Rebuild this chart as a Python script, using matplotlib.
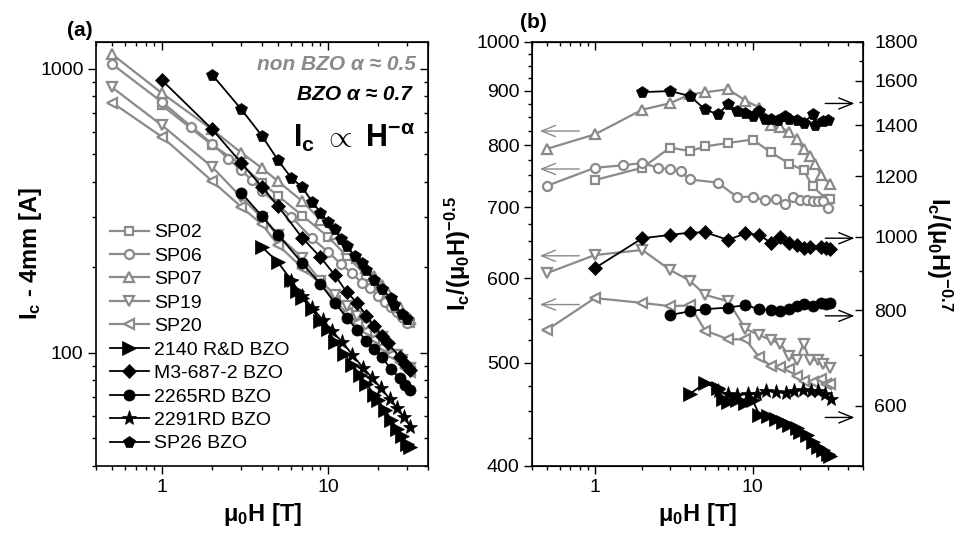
import numpy as np
import matplotlib
matplotlib.use('Agg')
import matplotlib.pyplot as plt
from matplotlib.ticker import FixedLocator, FuncFormatter, NullFormatter

plt.rcParams['font.family'] = ['Liberation Sans', 'DejaVu Sans']
plt.rcParams['mathtext.fontset'] = 'custom'
plt.rcParams['mathtext.rm'] = 'Liberation Sans'
plt.rcParams['mathtext.it'] = 'Liberation Sans:italic'
plt.rcParams['mathtext.bf'] = 'Liberation Sans:bold'

'''Data: field [T] and Ic*H^alpha as read off panel (b)'''
'''===================================================='''
sp02_h = [1, 2, 3, 4, 5, 7, 10, 13, 17, 21, 24, 29, 31]
sp02_s = [742, 762, 796, 790, 798, 804, 810, 788, 769, 758, 732, 713, 712]

sp06_h = [0.5, 1, 1.5, 2, 2.5, 3, 3.5, 4, 6, 8, 10, 12, 14, 16, 18, 20, 22, 24, 26, 28, 30]
sp06_s = [733, 762, 766, 770, 762, 760, 756, 743, 738, 715, 716, 710, 712, 704, 716, 711, 710, 709, 709, 709, 698]

sp07_h = [0.5, 1, 2, 3, 4, 5, 7, 9, 11, 13, 15, 17, 19, 21, 23, 25, 27, 31]
sp07_s = [794, 819, 864, 876, 893, 897, 903, 881, 868, 835, 832, 823, 811, 793, 781, 769, 751, 735]

sp19_h = [0.5, 1, 2, 3, 4, 5, 7, 9, 11, 13, 15, 17, 19, 21, 23, 26, 28, 31]
sp19_s = [607, 631, 638, 611, 597, 579, 571, 538, 531, 525, 521, 507, 503, 521, 503, 503, 499, 494]

sp20_h = [0.5, 1, 2, 3, 4, 5, 7, 9, 11, 13, 15, 17, 19, 21, 24, 27, 29, 31]
sp20_s = [537, 575, 569, 565, 566, 536, 526, 526, 506, 497, 495, 493, 486, 481, 480, 483, 478, 478]

r2140_h = [4, 5, 6, 6.5, 7, 8, 9, 10, 11, 12.5, 14, 15.5, 17, 19, 20, 22, 24, 26, 28, 30, 31]
r2140_s = [622, 642, 632, 613, 607, 610, 604, 610, 584, 582, 577, 571, 566, 560, 554, 549, 538, 530, 524, 519, 516]

m3_h = [1, 2, 3, 4, 5, 7, 9, 11, 13, 15, 17, 19, 21, 23, 27, 29, 31]
m3_s = [909, 995, 1005, 1012, 1013, 990, 1010, 1005, 982, 998, 981, 975, 965, 970, 970, 965, 962]

r2265_h = [3, 4, 5, 7, 9, 11, 13, 15, 17, 19, 21, 24, 27, 29, 31]
r2265_s = [789, 798, 803, 807, 813, 803, 801, 798, 803, 810, 816, 810, 817, 816, 817]

r2291_h = [6, 7, 8, 9.3, 10.6, 12.2, 14, 16.3, 18.4, 20.8, 23.5, 26, 28.6, 31.3]
r2291_s = [628, 621, 619, 622, 621, 628, 625, 624, 628, 630, 628, 628, 622, 613]

sp26_h = [2, 3, 4, 5, 6, 7, 8, 9, 10, 11, 12, 13, 14.5, 16, 17, 19, 21, 24, 25, 28, 30]
sp26_s = [1547, 1552, 1529, 1468, 1447, 1492, 1460, 1451, 1441, 1460, 1427, 1427, 1424, 1438, 1427, 1420, 1410, 1446, 1399, 1417, 1424]

labels = ['SP02', 'SP06', 'SP07', 'SP19', 'SP20',
          '2140 R&D BZO', 'M3-687-2 BZO', '2265RD BZO', '2291RD BZO', 'SP26 BZO']
fields = [sp02_h, sp06_h, sp07_h, sp19_h, sp20_h, r2140_h, m3_h, r2265_h, r2291_h, sp26_h]
scaled = [sp02_s, sp06_s, sp07_s, sp19_s, sp20_s, r2140_s, m3_s, r2265_s, r2291_s, sp26_s]
alphas = [0.5] * 5 + [0.7] * 5
markers = ['s', 'o', '^', 'v', '<', '>', 'D', 'o', '*', 'p']
msizes = [6, 6.5, 7.5, 7.5, 7.5, 10, 7, 8, 11, 8.5]

# arrows pointing to the axis used by each group
gray_arrow_y = [825, 760, 630, 567]
black_arrow_y = [1495, 995, 787, 579]

gray = '#8a8a8a'


def style(ax, top_ax=None, right_ax=None):
    for s in ax.spines.values():
        s.set_linewidth(1.2)
    ax.tick_params(which='major', direction='out', length=5.5, width=1, labelsize=14)
    ax.tick_params(which='minor', direction='out', length=3, width=1)
    for a in [top_ax, right_ax]:
        if a is not None:
            a.tick_params(which='major', direction='in', length=5.5, width=1, labelsize=14, pad=8)
            a.tick_params(which='minor', direction='in', length=3, width=1)


fig = plt.figure(figsize=(9.73, 5.4), dpi=100)
axa = fig.add_axes([96 / 973, 74 / 540, 332 / 973, 424 / 540])
axb = fig.add_axes([532 / 973, 74 / 540, 331 / 973, 424 / 540])
axb2 = axb.twinx()

for i in range(len(labels)):
    h = np.array(fields[i], dtype=float)
    s = np.array(scaled[i], dtype=float)
    ic = s / h ** alphas[i]
    if alphas[i] == 0.5:
        kw = dict(color=gray, mfc='white', mec=gray, mew=1.6, lw=1.6)
        axr = axb
    else:
        kw = dict(color='black', mfc='black', mec='black', mew=0.5, lw=1.3)
        axr = axb2
    axa.plot(h, ic, marker=markers[i], ms=msizes[i], label=labels[i], **kw)
    axr.plot(h, s, marker=markers[i], ms=msizes[i], **kw)

fmt = FuncFormatter(lambda v, p: '%g' % v)

# panel (a)
axa.set_xscale('log')
axa.set_yscale('log')
axa.set_xlim(0.4, 40)
axa.set_ylim(40, 1240)
axa.xaxis.set_major_formatter(fmt)
axa.yaxis.set_major_formatter(fmt)
axa.xaxis.set_minor_formatter(NullFormatter())
axa.yaxis.set_minor_formatter(NullFormatter())
ta = axa.secondary_xaxis('top')
ta.xaxis.set_minor_formatter(NullFormatter())
ra = axa.secondary_yaxis('right')
ra.yaxis.set_minor_formatter(NullFormatter())
style(axa, ta, ra)
ta.set_xticklabels([])
ra.set_yticklabels([])
axa.set_xlabel(r'$\mathbf{\mu_0}$H [T]', fontsize=17, fontweight='bold', labelpad=4)
axa.set_ylabel(r'$\mathbf{I_c}$ - 4mm [A]', fontsize=17, fontweight='bold', labelpad=-3)
axa.legend(loc='lower left', frameon=False, fontsize=14, handlelength=2.0,
           handletextpad=0.3, labelspacing=0.3, borderaxespad=0.3, numpoints=1)
axa.text(0.962, 0.948, 'non BZO α ≈ 0.5', transform=axa.transAxes, ha='right', va='center',
         color=gray, fontsize=15, fontweight='bold', fontstyle='italic')
axa.text(0.952, 0.876, 'BZO α ≈ 0.7', transform=axa.transAxes, ha='right', va='center',
         color='black', fontsize=15, fontweight='bold', fontstyle='italic')
axa.text(0.962, 0.775, r'$\mathbf{I_c}$ $\propto$ $\mathbf{H^{-\alpha}}$', transform=axa.transAxes,
         ha='right', va='center', fontsize=22)
fig.text(80 / 973, 1 - 30 / 540, '(a)', ha='center', va='center', fontsize=15, fontweight='bold')

# panel (b)
axb.set_xscale('log')
axb.set_yscale('log')
axb.set_xlim(0.4, 50)
axb.set_ylim(400, 1000)
axb.yaxis.set_major_locator(FixedLocator(np.arange(400, 1001, 100)))
axb.yaxis.set_minor_locator(FixedLocator(np.arange(400, 1001, 25)))
axb.yaxis.set_major_formatter(fmt)
axb.yaxis.set_minor_formatter(NullFormatter())
axb.xaxis.set_major_formatter(fmt)
axb.xaxis.set_minor_formatter(NullFormatter())
axb2.set_yscale('log')
axb2.set_ylim(500, 1800)
axb2.yaxis.set_major_locator(FixedLocator(np.arange(600, 1801, 200)))
axb2.yaxis.set_minor_locator(FixedLocator(np.arange(500, 1801, 100)))
axb2.yaxis.set_major_formatter(fmt)
axb2.yaxis.set_minor_formatter(NullFormatter())
tb = axb.secondary_xaxis('top')
tb.xaxis.set_minor_formatter(NullFormatter())
style(axb, tb, axb2)
tb.set_xticklabels([])
axb.tick_params(axis='y', which='both', right=False)
axb.set_xlabel(r'$\mathbf{\mu_0}$H [T]', fontsize=17, fontweight='bold', labelpad=4)
axb.set_ylabel(r'$\mathbf{I_c/(\mu_0H)^{-0.5}}$', fontsize=17, labelpad=2)
axb2.set_ylabel(r'$\mathbf{I_c/(\mu_0H)^{-0.7}}$', fontsize=17, rotation=270, labelpad=26)

for y in gray_arrow_y:
    axb.annotate('', xy=(0.43, y), xytext=(0.83, y),
                 arrowprops=dict(arrowstyle='->,head_length=1.0,head_width=0.4', color=gray, lw=1))
for y in black_arrow_y:
    axb2.annotate('', xy=(46, y), xytext=(27.7, y),
                  arrowprops=dict(arrowstyle='->,head_length=1.0,head_width=0.4', color='black', lw=1))
fig.text(533 / 973, 1 - 23 / 540, '(b)', ha='center', va='center', fontsize=15, fontweight='bold')

plt.savefig('out.png', dpi=100)
